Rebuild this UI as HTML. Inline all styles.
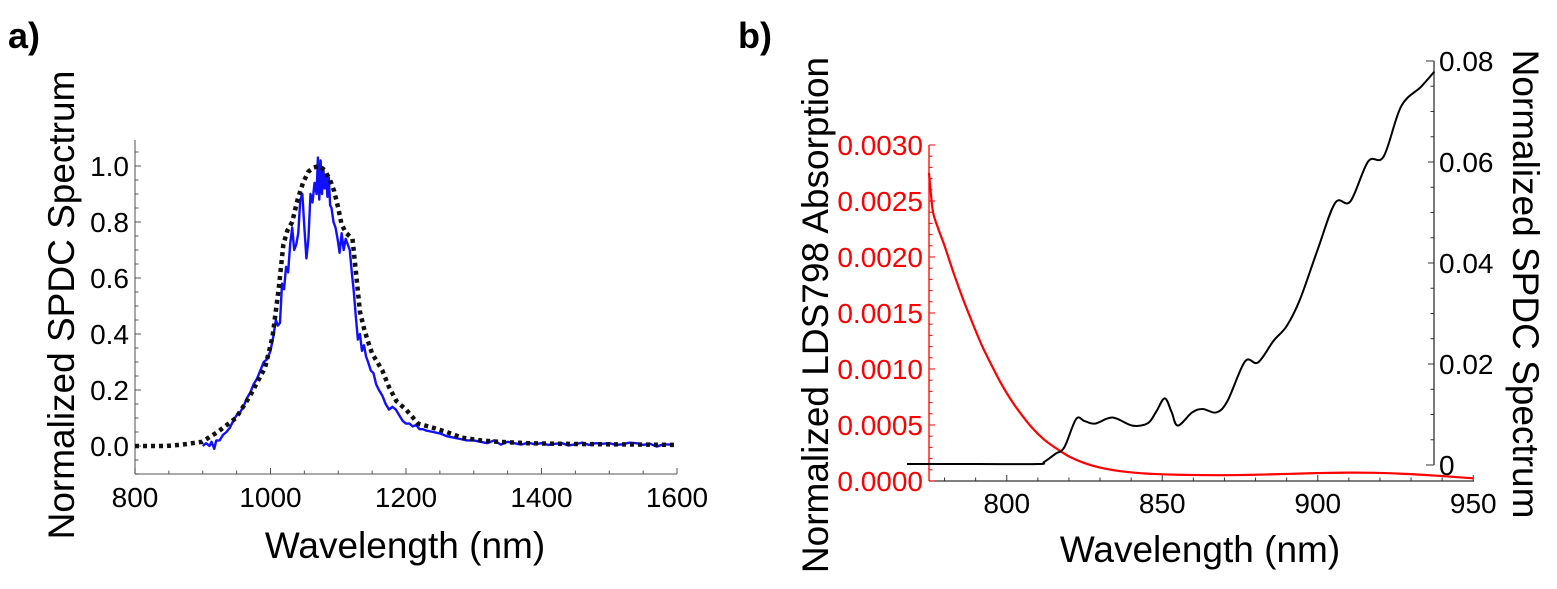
<!DOCTYPE html>
<html><head><meta charset="utf-8"><style>
html,body{margin:0;padding:0;background:#fff;}
svg{display:block;font-family:"Liberation Sans",Arial,sans-serif;}
</style></head><body>
<svg id="fig" width="1557" height="589" viewBox="0 0 1557 589">
<text x="8" y="48" font-size="36" font-weight="bold">a)</text>
<text x="738" y="48" font-size="36" font-weight="bold">b)</text>
<g id="pa"></g>
<g id="pb"></g>
<text x="405" y="558" font-size="37" text-anchor="middle">Wavelength (nm)</text>
<text transform="translate(74,305) rotate(-90)" font-size="37" text-anchor="middle">Normalized SPDC Spectrum</text>
<text x="1200" y="562" font-size="37" text-anchor="middle">Wavelength (nm)</text>
<text transform="translate(828,315) rotate(-90)" font-size="37" text-anchor="middle">Normalized LDS798 Absorption</text>
<text transform="translate(1513,284) rotate(90)" font-size="37" text-anchor="middle">Normalized SPDC Spectrum</text>
</svg>
<script>
// ---- Panel a data ----
const aTheoryX = [800,846,870,899,922,949,970,992,1003,1012,1019,1025,1032,1040,1048,1056,1064,1072,1080,1088,1094,1100,1105,1112,1121,1127,1132,1138,1143,1150,1165,1175,1186,1200,1218,1240,1260,1282,1310,1336,1380,1422,1500,1600];
const aTheoryY = [0.0,0.0,0.005,0.015,0.05,0.1,0.18,0.28,0.39,0.56,0.72,0.77,0.8,0.88,0.94,0.98,0.995,1.0,0.985,0.95,0.91,0.85,0.79,0.76,0.74,0.6,0.48,0.42,0.38,0.33,0.27,0.21,0.16,0.13,0.08,0.065,0.05,0.03,0.02,0.015,0.01,0.008,0.006,0.004];
const aMeasX = [900,905,910,913,917,920,925,930,935,940,945,950,955,960,965,970,975,980,985,990,995,1000,1004,1008,1011,1014,1017,1020,1023,1026,1029,1032,1035,1038,1041,1044,1047,1050,1053,1056,1059,1062,1065,1068,1070,1072,1074,1076,1078,1080,1082,1084,1086,1088,1090,1093,1096,1099,1102,1105,1108,1111,1114,1117,1120,1123,1126,1129,1132,1135,1138,1141,1144,1148,1152,1156,1160,1165,1170,1175,1180,1185,1190,1195,1200,1205,1210,1215,1220,1225,1230,1240,1250,1260,1270,1280,1290,1300,1310,1320,1330,1340,1350,1360,1370,1380,1390,1400,1410,1420,1430,1440,1450,1460,1470,1480,1490,1500,1510,1520,1530,1540,1550,1560,1570,1580,1590,1600];
const aMeasY = [0.0,0.01,0.0,0.015,-0.01,0.02,0.02,0.04,0.05,0.065,0.09,0.11,0.12,0.14,0.17,0.19,0.22,0.24,0.27,0.3,0.31,0.34,0.39,0.45,0.43,0.44,0.58,0.56,0.64,0.62,0.72,0.78,0.7,0.72,0.76,0.88,0.9,0.78,0.67,0.74,0.9,0.87,0.94,0.9,1.03,0.88,1.02,0.9,0.99,0.92,0.97,0.89,0.96,0.86,0.85,0.8,0.78,0.74,0.69,0.76,0.7,0.74,0.72,0.7,0.62,0.55,0.46,0.38,0.4,0.34,0.36,0.32,0.3,0.27,0.26,0.22,0.2,0.18,0.15,0.13,0.14,0.13,0.11,0.09,0.08,0.08,0.07,0.075,0.06,0.06,0.055,0.05,0.045,0.035,0.03,0.025,0.02,0.02,0.015,0.01,0.02,0.005,0.015,0.01,0.005,0.012,0.006,0.01,0.004,0.008,0.01,0.002,0.006,0.012,0.004,0.01,0.008,0.01,0.004,0.006,0.012,0.01,0.004,0.008,-0.002,0.006,0.005];
const aXTicks = [800,1000,1200,1400,1600];
const aYTicks = [0.0,0.2,0.4,0.6,0.8,1.0];
const aYTickLabels = ["0.0","0.2","0.4","0.6","0.8","1.0"];

// ---- Panel b data ----
const bRedX = [775,775.5,776.3,778,780,783,786,789,792,795,798,801,804,808,812,816,820,825,830,836,842,848,855,862,870,878,886,894,902,910,918,926,934,942,950];
const bRedY = [0.00275,0.0026,0.0024,0.00225,0.0021,0.00185,0.00162,0.00141,0.00121,0.00104,0.00088,0.00074,0.00062,0.00048,0.00037,0.00029,0.00022,0.00016,0.00012,0.00009,0.000072,0.000062,0.000056,0.000053,0.000052,0.000055,0.00006,0.000066,0.000072,0.000075,0.000073,0.000066,0.000055,0.00004,0.000024];
const bBlackX = [767.9,790,810,812,815.6,818.5,822.3,825,828.4,834,840.4,845.4,848,850.8,853,855,859.6,863,867.4,871,876.6,880.8,885.8,890,894.3,900,905.6,910.5,916.2,921.2,926.8,933.2,937.5];
const bBlackY = [0.0002,0.0002,0.0002,0.0006,0.0022,0.0035,0.0091,0.0087,0.0082,0.0094,0.0078,0.0083,0.0105,0.0132,0.0105,0.0078,0.0104,0.0111,0.0104,0.0127,0.0205,0.0203,0.0246,0.0275,0.0328,0.0427,0.0519,0.0522,0.0601,0.0611,0.071,0.0749,0.0779];
const bXTicks = [800,850,900,950];
const bRedTicks = [0,0.0005,0.001,0.0015,0.002,0.0025,0.003];
const bRedTickLabels = ["0.0000","0.0005","0.0010","0.0015","0.0020","0.0025","0.0030"];
const bBlackTicks = [0,0.02,0.04,0.06,0.08];
const bBlackTickLabels = ["0","0.02","0.04","0.06","0.08"];

const NS = "http://www.w3.org/2000/svg";
function mk(parent, tag, attrs){ const e=document.createElementNS(NS,tag); for(const k in attrs) e.setAttribute(k,attrs[k]); parent.appendChild(e); return e; }
function pathD(xs,ys,fx,fy){ return xs.map((x,i)=>(i?"L":"M")+fx(x).toFixed(2)+","+fy(ys[i]).toFixed(2)).join(""); }
function smoothD(xs,ys,fx,fy){
  const p = xs.map((x,i)=>[fx(x),fy(ys[i])]);
  let d = "M"+p[0][0].toFixed(2)+","+p[0][1].toFixed(2);
  for(let i=0;i<p.length-1;i++){
    const p0=p[Math.max(0,i-1)], p1=p[i], p2=p[i+1], p3=p[Math.min(p.length-1,i+2)];
    const c1=[p1[0]+(p2[0]-p0[0])/6, p1[1]+(p2[1]-p0[1])/6];
    const c2=[p2[0]-(p3[0]-p1[0])/6, p2[1]-(p3[1]-p1[1])/6];
    d += "C"+c1.map(v=>v.toFixed(2)).join(",")+" "+c2.map(v=>v.toFixed(2)).join(",")+" "+p2[0].toFixed(2)+","+p2[1].toFixed(2);
  }
  return d;
}

// Panel a scales
const ax = v => 135 + (v-800)*(542/800);
const ay = v => 446 - v*280;
const pa = document.getElementById('pa');
let e;
e = mk(pa,'line',{x1:135,y1:140,x2:135,y2:474,stroke:'#777','stroke-width':1.3});


e = mk(pa,'line',{x1:135,y1:474,x2:677,y2:474,stroke:'#777','stroke-width':1.3});


for(let v=-0.1; v<=1.101; v+=0.05){ const major=Math.abs(v*5-Math.round(v*5))<1e-6; const y=ay(v); if(y<140) continue;
  mk(pa,'line',{x1:135,y1:y,x2:135+(major?6:3.5),y2:y,stroke:'#555','stroke-width':1}); }
for(let v=800; v<=1600; v+=50){ const major=v%200===0; const x=ax(v);
  mk(pa,'line',{x1:x,y1:474,x2:x,y2:474-(major?6:3.5),stroke:'#555','stroke-width':1}); }
aYTicks.forEach((v,i)=>{ e=mk(pa,'text',{x:129,y:ay(v)+10,'font-size':28,'text-anchor':'end'}); e.textContent=aYTickLabels[i];
  
   });
aXTicks.forEach(v=>{ e=mk(pa,'text',{x:ax(v),y:507,'font-size':28,'text-anchor':'middle'}); e.textContent=String(v);
  
   });
e = mk(pa,'path',{d:pathD(aMeasX,aMeasY,ax,ay),fill:'none',stroke:'#1010ff','stroke-width':2.4,'stroke-linejoin':'round'});


e = mk(pa,'path',{d:pathD(aTheoryX,aTheoryY,ax,ay),fill:'none',stroke:'#111','stroke-width':4.5,'stroke-dasharray':'4 4'});



// Panel b scales
const bx = v => 929 + (v-775)*(155.5/50);
const byR = v => 481 - v*(56/0.0005);
const byB = v => 465 - v*(404/0.08);
const pb = document.getElementById('pb');
e = mk(pb,'line',{x1:929,y1:145,x2:929,y2:481,stroke:'#ff0000','stroke-width':1.3});


e = mk(pb,'line',{x1:929,y1:481,x2:1474,y2:481,stroke:'#333','stroke-width':1.3});


e = mk(pb,'line',{x1:1434,y1:61,x2:1434,y2:465,stroke:'#333','stroke-width':1.3});


mk(pb,'line',{x1:1426,y1:61,x2:1434,y2:61,stroke:'#333','stroke-width':1});
mk(pb,'line',{x1:1426,y1:465,x2:1434,y2:465,stroke:'#333','stroke-width':1});
for(let k=0;k<=30;k++){ const y=byR(k*0.0001); const major=k%5===0;
  mk(pb,'line',{x1:929,y1:y,x2:929+(major?6:3.5),y2:y,stroke:'#ff0000','stroke-width':1}); }
for(let k=0;k<=16;k++){ const y=byB(k*0.005); const major=k%4===0;
  mk(pb,'line',{x1:1434,y1:y,x2:1434-(major?6:3.5),y2:y,stroke:'#333','stroke-width':1}); }
for(let v=780; v<=950; v+=10){ const x=bx(v); const major=v%50===0;
  mk(pb,'line',{x1:x,y1:481,x2:x,y2:481-(major?6:3.5),stroke:'#333','stroke-width':1}); }
bRedTicks.forEach((v,i)=>{ e=mk(pb,'text',{x:923,y:byR(v)+10,'font-size':28,'text-anchor':'end',fill:'#ff0000'}); e.textContent=bRedTickLabels[i];
  
   });
bBlackTicks.forEach((v,i)=>{ e=mk(pb,'text',{x:1439,y:byB(v)+10,'font-size':28,'text-anchor':'start'}); e.textContent=bBlackTickLabels[i];
  
   });
bXTicks.forEach(v=>{ e=mk(pb,'text',{x:bx(v),y:513,'font-size':28,'text-anchor':'middle'}); e.textContent=String(v);
  
   });
e = mk(pb,'path',{d:smoothD(bRedX,bRedY,bx,byR),fill:'none',stroke:'#ff0000','stroke-width':2.2,'stroke-linejoin':'round'});


e = mk(pb,'path',{d:smoothD(bBlackX,bBlackY,bx,byB),fill:'none',stroke:'#000','stroke-width':2,'stroke-linejoin':'round'});


</script>
</body></html>
